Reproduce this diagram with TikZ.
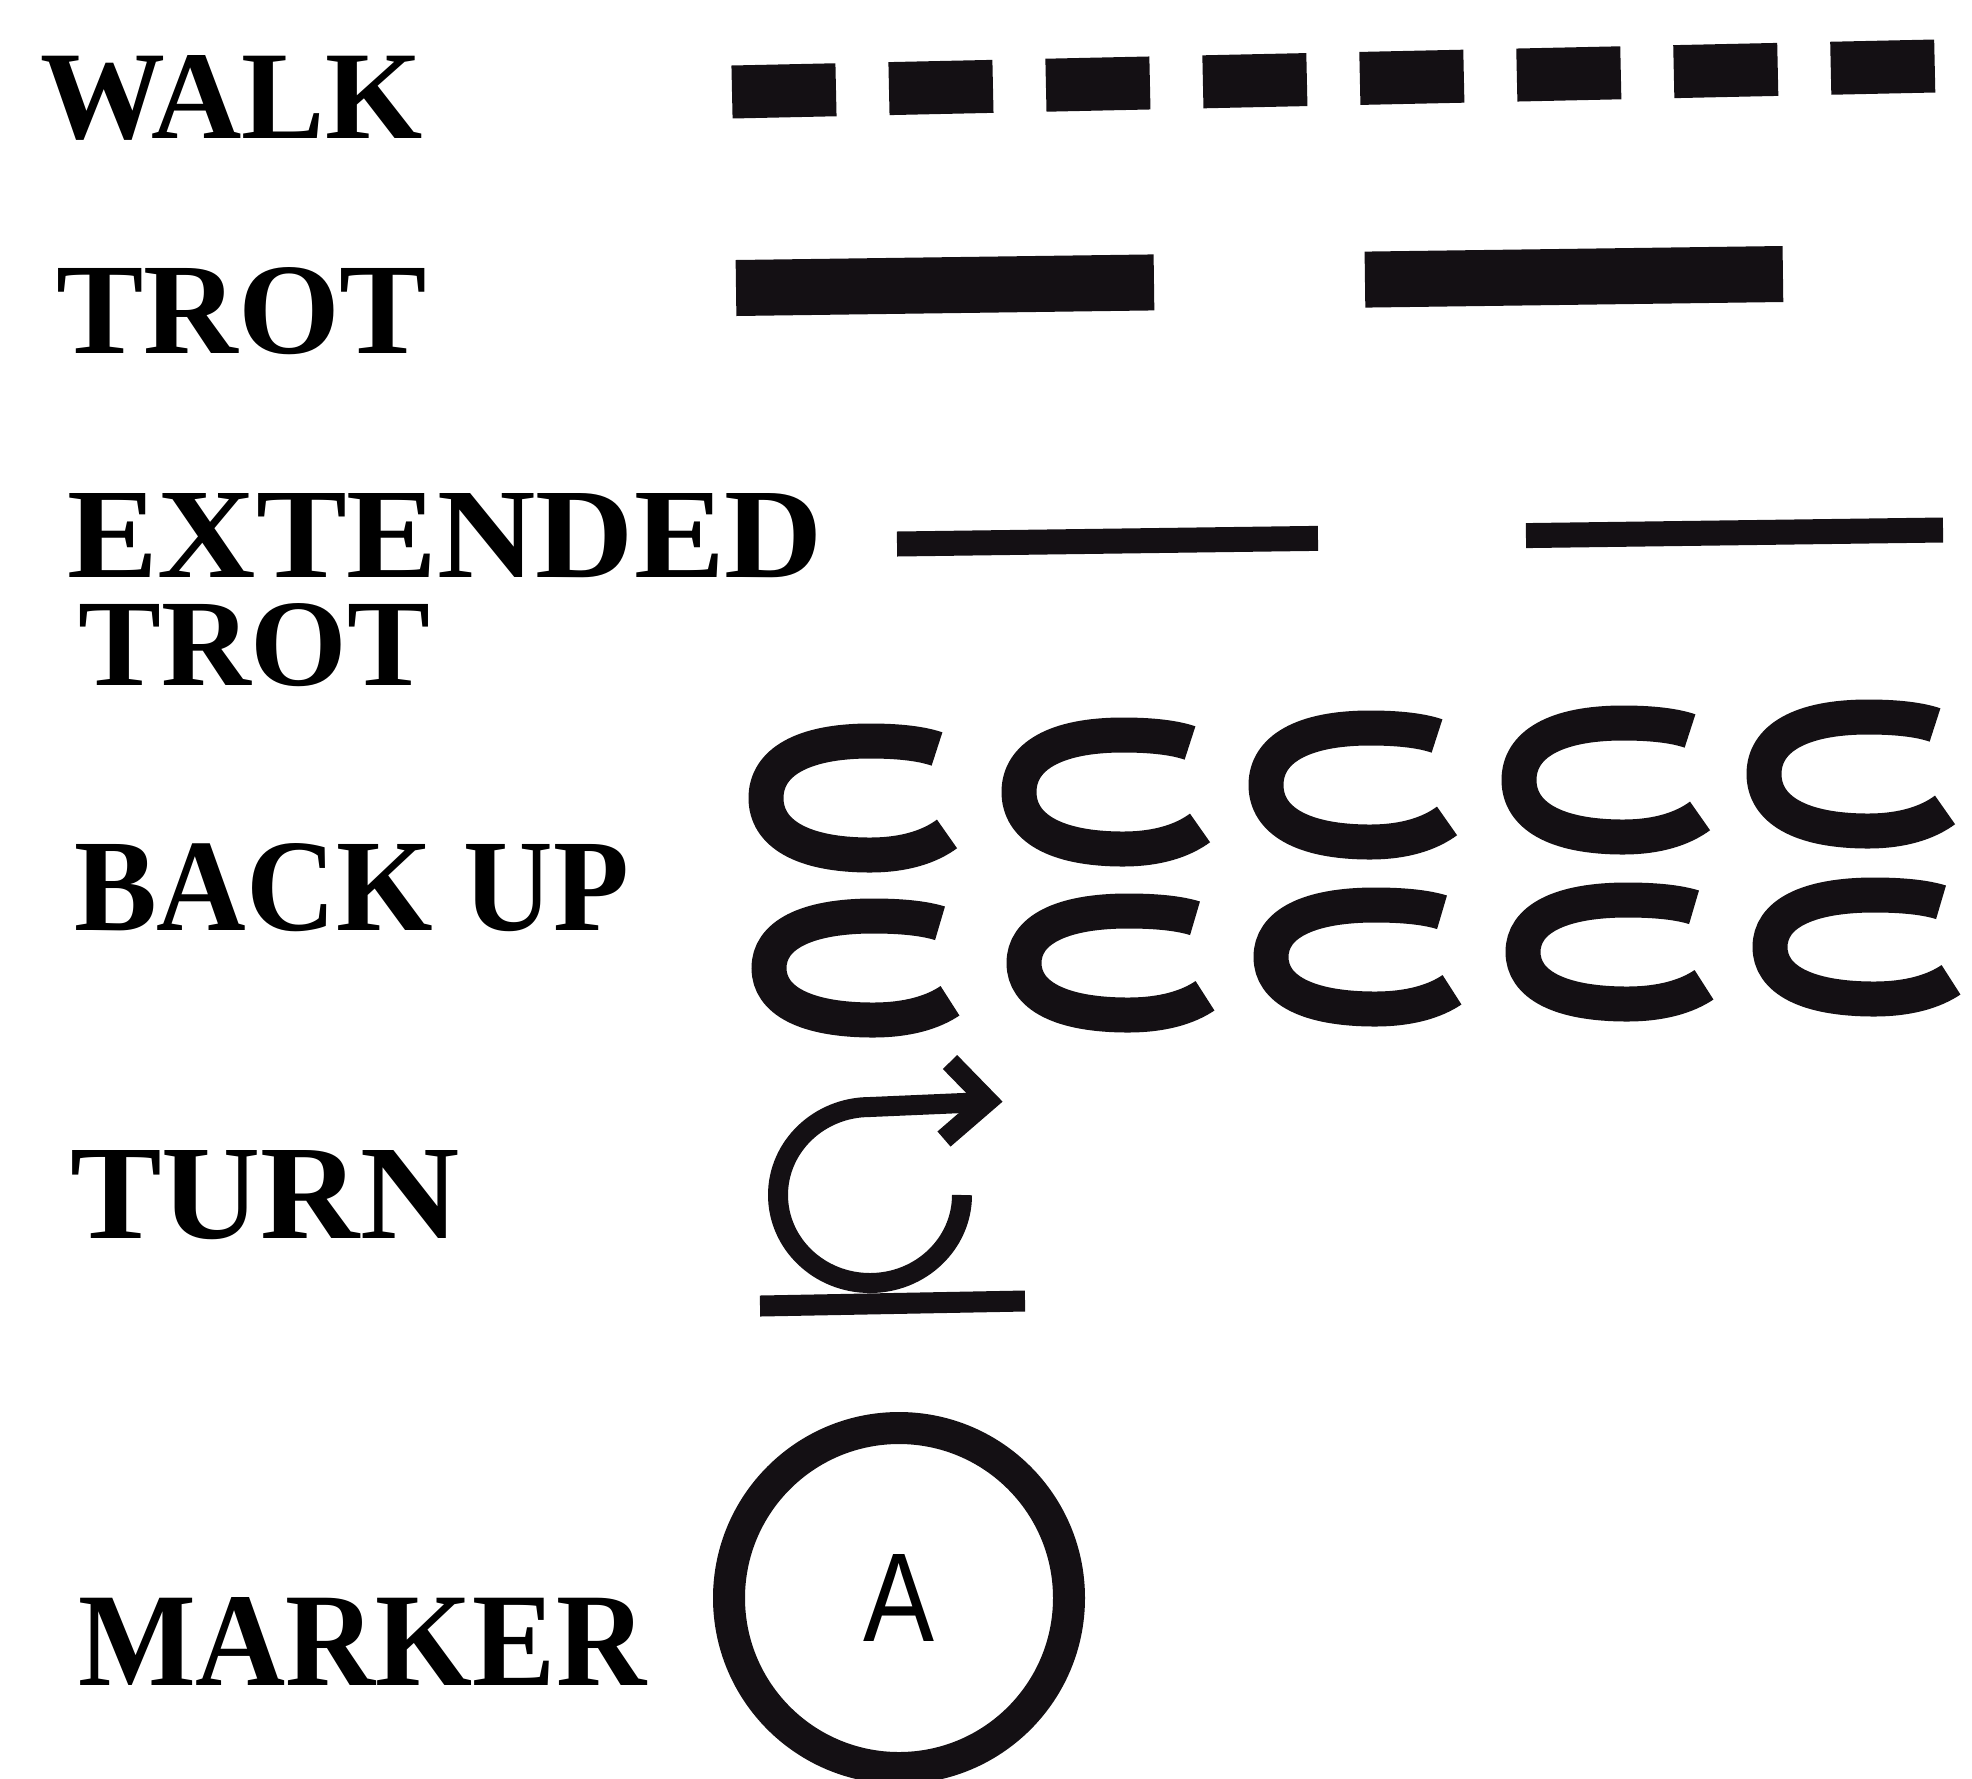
\documentclass[tikz,border=0pt]{standalone}
\usepackage{fontspec}
\usepackage{graphicx}
\setmainfont{Liberation Serif}
\setsansfont{Liberation Sans}
\newfontfamily\lblfont{Liberation Serif}
\definecolor{ink}{HTML}{141014}
\begin{document}
\begin{tikzpicture}[x=1pt,y=-1pt,
  lbl/.style={anchor=base west,inner sep=0pt,text=black,font=\lblfont\bfseries\fontsize{100}{100}\selectfont},
  walkdash/.style={draw=ink,line width=53pt,dash pattern=on 104pt off 53pt},
  trotbar/.style={draw=ink,line width=56pt,dash pattern=on 418pt off 211pt},
  extbar/.style={draw=ink,line width=25pt,dash pattern=on 421pt off 208pt},
  cstroke/.style={draw=ink,line width=35pt},
  pics/cmark/.style={code={\draw[cstroke] (57,-0.86*#1) .. controls (42,-0.95*#1) and (20,-#1) .. (-10,-#1)
      .. controls (-78,-#1) and (-114,-0.62*#1) .. (-114,0)
      .. controls (-114,0.62*#1) and (-78,#1) .. (-10,#1)
      .. controls (25,#1) and (50,0.85*#1) .. (67,0.63*#1);}},
  turnline/.style={draw=ink,line width=20pt},
  markerc/.style={circle,draw=ink,line width=32pt,minimum size=340pt,inner sep=0pt,text=black,font=\sffamily\mdseries\fontsize{100}{100}\selectfont}
  ]
\fill[white] (0,0) rectangle (1972,1778);
\useasboundingbox (0,0) rectangle (1972,1778);

% labels
\node[lbl] (walk) at (40,138) {\resizebox{382pt}{83pt}{WALK}};
\node[lbl] (trot) at (56,353) {\resizebox{371pt}{86pt}{TROT}};
\node[lbl] (ext) at (67,577) {\rlap{\hspace{11pt}\raisebox{-108pt}{\resizebox{352pt}{82pt}{TROT}}}\resizebox{756pt}{84pt}{EXTENDED}};
\node[lbl] (back) at (74,930) {\resizebox{555pt}{87pt}{BACK UP}};
\node[lbl] (turn) at (70,1238) {\resizebox{389pt}{88pt}{TURN}};
\node[lbl] (markerlbl) at (78,1685) {\resizebox{568pt}{88pt}{MARKER}};

% walk
\draw[walkdash] (732,92) -- (1935,66);
% trot
\draw[trotbar] (736,288) -- (1783,274);
% extended trot
\draw[extbar] (897,544) -- (1943,530);

% back up
\pic at (880,798) {cmark=57};
\pic at (1133,792) {cmark=57};
\pic at (1380,785) {cmark=57};
\pic at (1633,780) {cmark=57};
\pic at (1878,774) {cmark=57};
\pic at (883,968) {cmark=52};
\pic at (1138,963) {cmark=52};
\pic at (1385,957) {cmark=52};
\pic at (1637,952) {cmark=52};
\pic at (1884,947) {cmark=52};

% turn
\draw[turnline] (962,1195) arc[start angle=0,end angle=270,x radius=92,y radius=88] -- (986,1102);
\draw[turnline,line join=miter] (950,1062) -- (988,1101) -- (944,1139);
\draw[draw=ink,line width=21pt] (760,1306) -- (1025,1301);

% marker
\node[markerc] (marker) at (899,1598) {\resizebox{71pt}{87pt}{\sffamily A}};
\end{tikzpicture}
\end{document}
